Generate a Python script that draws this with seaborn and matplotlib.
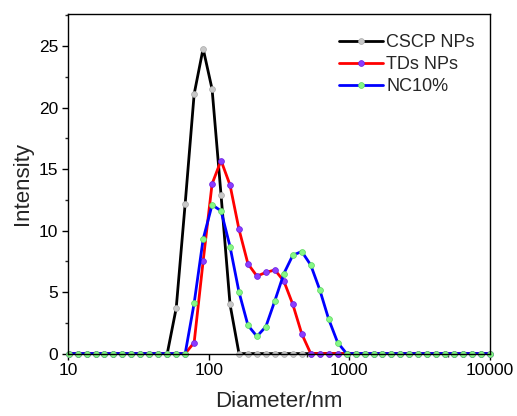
import matplotlib
matplotlib.use("Agg")
import matplotlib.pyplot as plt
import matplotlib.ticker as mticker
import seaborn as sns
import pandas as pd

# Malvern size bins (nm) within 10-10000
diameter = [10.10, 11.70, 13.54, 15.69, 18.17, 21.04, 24.36, 28.21, 32.67, 37.84,
            43.82, 50.75, 58.77, 68.06, 78.82, 91.28, 105.7, 122.4, 141.8, 164.2,
            190.1, 220.2, 255.0, 295.3, 342.0, 396.1, 458.7, 531.2, 615.1, 712.4,
            825.0, 955.4, 1106, 1281, 1484, 1718, 1990, 2305, 2669, 3091,
            3580, 4145, 4801, 5560, 6439, 7456, 8635, 10000]

cscp_nps = [0, 0, 0, 0, 0, 0, 0, 0, 0, 0,
            0, 0, 3.7, 12.2, 21.1, 24.8, 21.5, 12.9, 4.0, 0,
            0, 0, 0, 0, 0, 0, 0, 0, 0, 0,
            0, 0, 0, 0, 0, 0, 0, 0, 0, 0,
            0, 0, 0, 0, 0, 0, 0, 0]

tds_nps = [0, 0, 0, 0, 0, 0, 0, 0, 0, 0,
           0, 0, 0, 0, 0.9, 7.5, 13.8, 15.7, 13.7, 10.1,
           7.3, 6.3, 6.6, 6.8, 5.9, 4.0, 1.6, 0, 0, 0,
           0, 0, 0, 0, 0, 0, 0, 0, 0, 0,
           0, 0, 0, 0, 0, 0, 0, 0]

nc10 = [0, 0, 0, 0, 0, 0, 0, 0, 0, 0,
        0, 0, 0, 0, 4.1, 9.3, 12.1, 11.6, 8.7, 5.0,
        2.3, 1.4, 2.2, 4.3, 6.5, 8.0, 8.3, 7.2, 5.2, 2.8,
        0.9, 0, 0, 0, 0, 0, 0, 0, 0, 0,
        0, 0, 0, 0, 0, 0, 0, 0]

series_names = ["CSCP NPs", "TDs NPs", "NC10%"]
series_values = [cscp_nps, tds_nps, nc10]
line_colors = ["#000000", "#ff0000", "#0000ff"]
marker_colors = ["#c8c8c8", "#8a3cff", "#86f786"]
marker_edges = ["#a8a8a8", "#6a1ee0", "#5cd85c"]

x_ticks = [10, 100, 1000, 10000]
x_ticklabels = ["10", "100", "1000", "10000"]
y_ticks = [0, 5, 10, 15, 20, 25]

sns.set_style("ticks")
plt.rcParams["font.family"] = ["Liberation Sans", "DejaVu Sans"]

fig = plt.figure(figsize=(5.17, 4.16), dpi=100)
ax = fig.add_axes([0.1315, 0.150, 0.8165, 0.816])

for name, vals, lc, mc, me in zip(series_names, series_values, line_colors, marker_colors, marker_edges):
    df = pd.DataFrame({"Diameter": diameter, "Intensity": vals})
    sns.lineplot(data=df, x="Diameter", y="Intensity", ax=ax, color=lc, linewidth=2.0,
                 marker="o", markersize=4.2, markerfacecolor=mc, markeredgecolor=me,
                 markeredgewidth=0.5, label=name, clip_on=False, sort=False)

ax.set_xscale("log")
ax.set_xlim(10, 10000)
ax.set_ylim(0, 27.6)
ax.set_xticks(x_ticks)
ax.set_xticklabels(x_ticklabels)
ax.xaxis.set_minor_locator(mticker.FixedLocator([50, 500, 5000]))
ax.xaxis.set_minor_formatter(mticker.NullFormatter())
ax.set_yticks(y_ticks)
ax.yaxis.set_minor_locator(mticker.MultipleLocator(2.5))

ax.tick_params(axis="both", which="major", direction="out", length=4, width=1,
               labelsize=12.5, colors="#000000", pad=3)
ax.tick_params(axis="both", which="minor", direction="out", length=2.5, width=1)
for s in ax.spines.values():
    s.set_visible(True)
    s.set_linewidth(1.0)
    s.set_color("#000000")

ax.set_xlabel("Diameter/nm", fontsize=16, labelpad=9)
ax.set_ylabel("Intensity", fontsize=16, labelpad=4)

leg = ax.legend(loc="upper left", bbox_to_anchor=(0.626, 0.962), frameon=False,
                fontsize=13, handlelength=2.4, handletextpad=0.2,
                labelspacing=0.28, borderaxespad=0, borderpad=0.4)

fig.savefig("out.png", dpi=100)
